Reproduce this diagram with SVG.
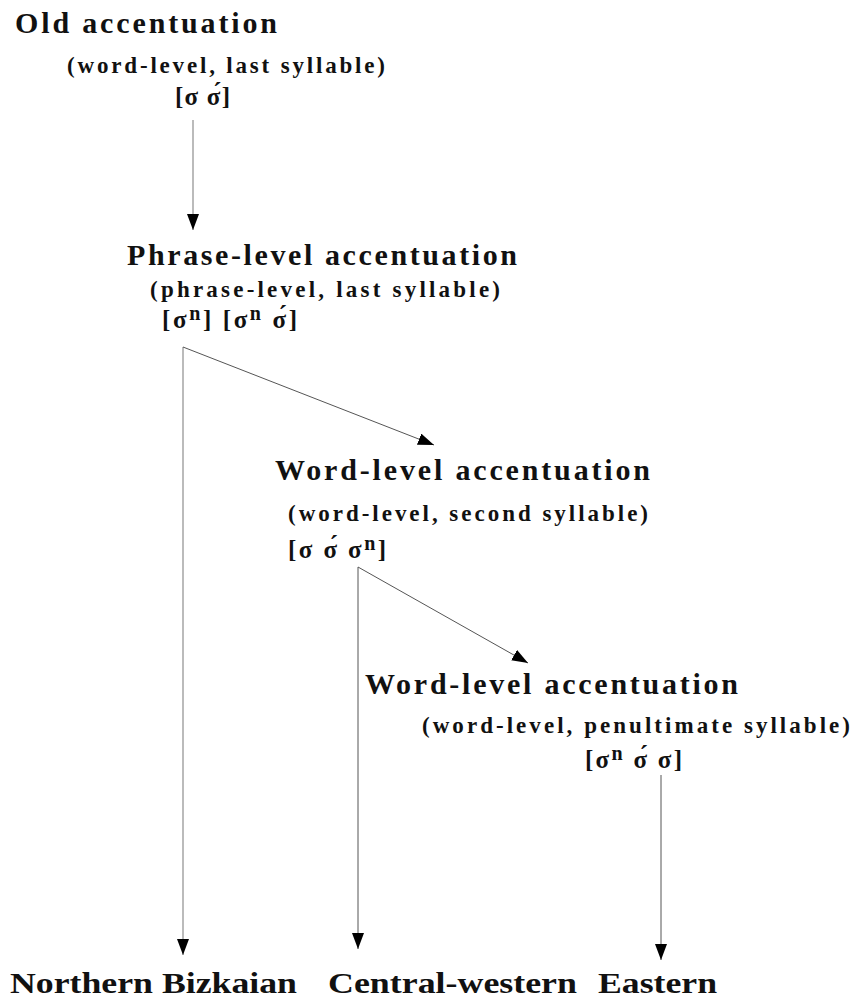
<svg xmlns="http://www.w3.org/2000/svg" width="855" height="1000" viewBox="0 0 855 1000">
<defs>
<style>
.h{font-family:"Liberation Serif","Times New Roman",serif;font-weight:bold;font-size:30px;fill:#111}
.s{font-family:"Liberation Serif","Times New Roman",serif;font-weight:bold;font-size:23px;fill:#111}
.f{font-family:"Liberation Serif","Times New Roman",serif;font-weight:bold;font-size:25px;fill:#111}
.b{font-family:"Liberation Serif","Times New Roman",serif;font-weight:bold;font-size:30px;fill:#111}
.c{fill:none;stroke:#555;stroke-width:1}
.g{fill:none;stroke:#aaa;stroke-width:1.6}
</style>
<marker id="av" viewBox="0 0 16 12" refX="16" refY="6" markerWidth="16" markerHeight="12" markerUnits="userSpaceOnUse" orient="auto">
<path d="M0,0 L16,6 L0,12 Z" fill="#000"/>
</marker>
</defs>
<g id="connectors">
<line class="g" x1="193" y1="120" x2="193" y2="230" marker-end="url(#av)"/>
<line class="g" x1="183" y1="347" x2="183" y2="955" marker-end="url(#av)"/>
<line class="c" x1="183" y1="347" x2="434" y2="445" marker-end="url(#av)"/>
<line class="c" x1="358" y1="567" x2="358" y2="949" marker-end="url(#av)"/>
<line class="c" x1="358" y1="567" x2="528" y2="663" marker-end="url(#av)"/>
<line class="c" x1="661" y1="775" x2="661" y2="960" marker-end="url(#av)"/>
</g>
<g id="old">
<text class="h" x="15" y="33" textLength="262" lengthAdjust="spacing">Old accentuation</text>
<text class="s" x="67" y="73" textLength="318" lengthAdjust="spacing">(word-level, last syllable)</text>
<text class="f" x="175" y="105" textLength="55" lengthAdjust="spacing">[σ σ́]</text>
</g>
<g id="phrase">
<text class="h" x="127" y="265" textLength="390" lengthAdjust="spacing">Phrase-level accentuation</text>
<text class="s" x="150" y="297" textLength="350" lengthAdjust="spacing">(phrase-level, last syllable)</text>
<text class="f" x="162" y="328" textLength="135" lengthAdjust="spacing">[σ<tspan font-size="20" dy="-8">n</tspan><tspan dy="8">] [σ</tspan><tspan font-size="20" dy="-8">n</tspan><tspan dy="8"> σ́]</tspan></text>
</g>
<g id="word1">
<text class="h" x="275" y="480" textLength="375" lengthAdjust="spacing">Word-level accentuation</text>
<text class="s" x="288" y="521" textLength="360" lengthAdjust="spacing">(word-level, second syllable)</text>
<text class="f" x="288" y="558" textLength="98" lengthAdjust="spacing">[σ σ́ σ<tspan font-size="20" dy="-8">n</tspan><tspan dy="8">]</tspan></text>
</g>
<g id="word2">
<text class="h" x="365" y="694" textLength="373" lengthAdjust="spacing">Word-level accentuation</text>
<text class="s" x="422" y="733" textLength="428" lengthAdjust="spacing">(word-level, penultimate syllable)</text>
<text class="f" x="585" y="768" textLength="97" lengthAdjust="spacing">[σ<tspan font-size="20" dy="-8">n</tspan><tspan dy="8"> σ́ σ]</tspan></text>
</g>
<g id="northern">
<text class="b" x="10" y="993" textLength="287" lengthAdjust="spacingAndGlyphs">Northern Bizkaian</text>
</g>
<g id="central">
<text class="b" x="328" y="993" textLength="249" lengthAdjust="spacingAndGlyphs">Central-western</text>
</g>
<g id="eastern">
<text class="b" x="598" y="993" textLength="119" lengthAdjust="spacingAndGlyphs">Eastern</text>
</g>
</svg>
